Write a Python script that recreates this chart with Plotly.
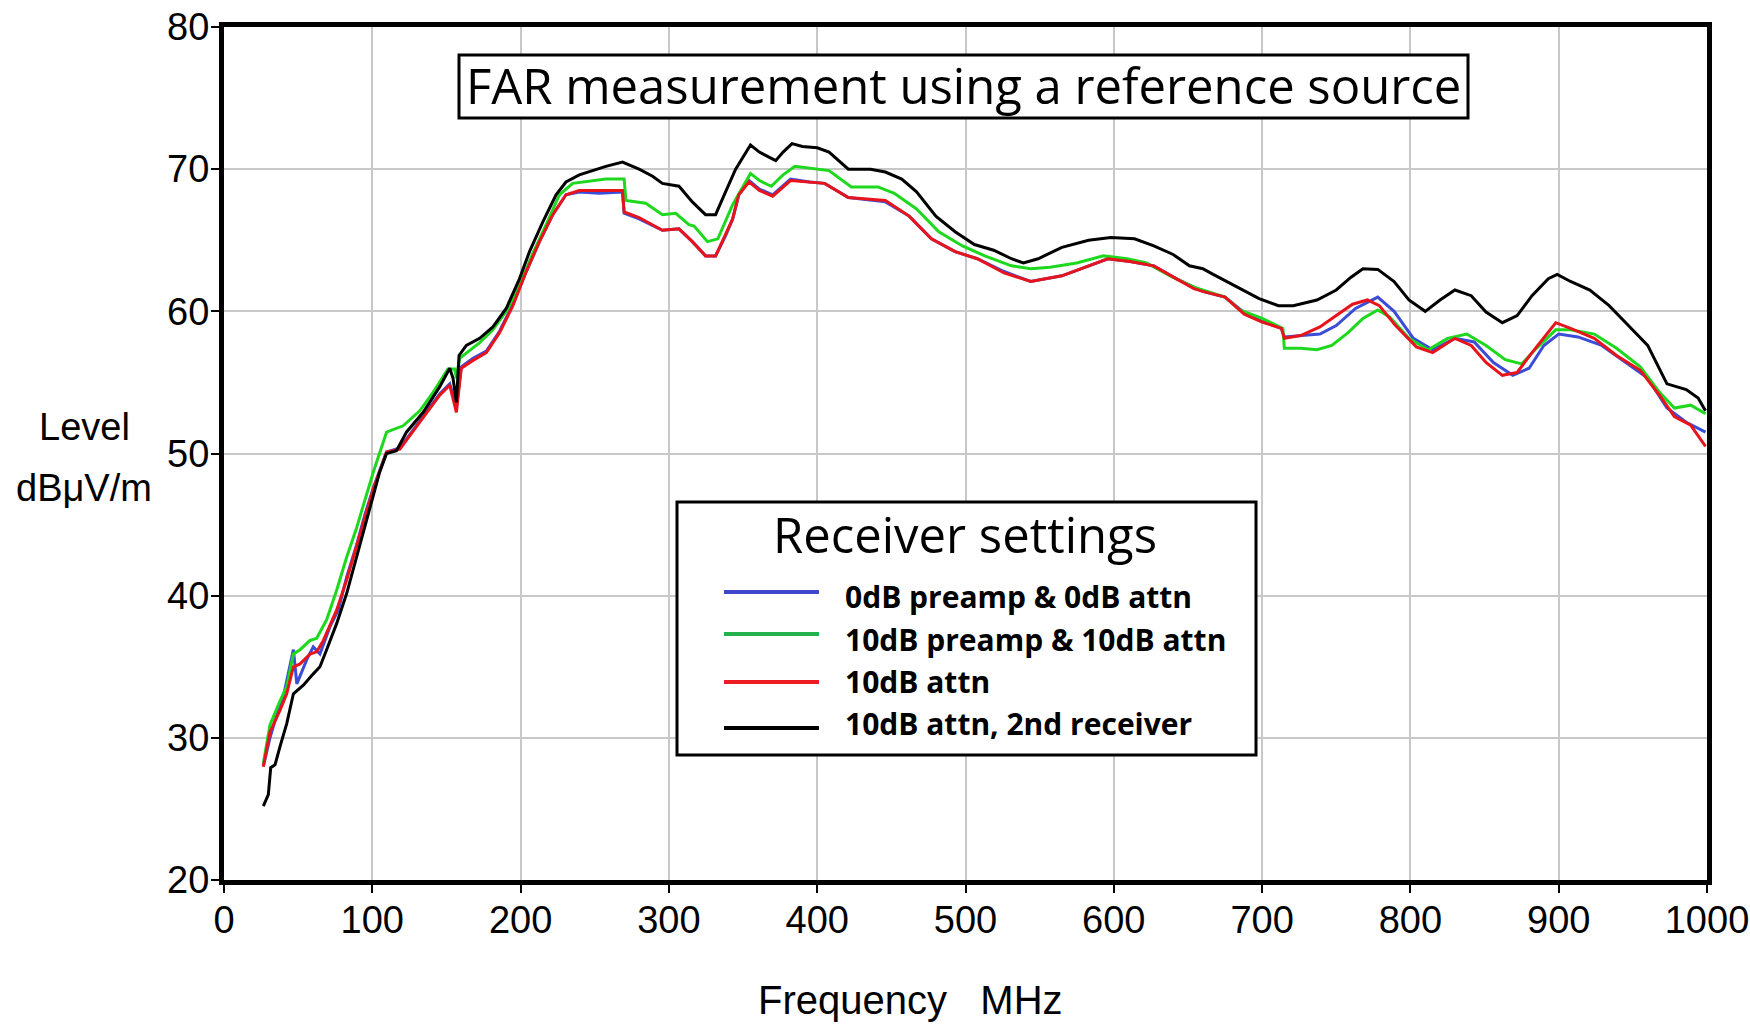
import plotly.graph_objects as go

# ---------------- data ----------------
black_f = [26.5, 29.9, 31.5, 34.4, 37.8, 42.3, 46.8, 53.5, 60.2, 64.7, 69.2, 76.0, 82.7, 89.0, 95.0,
           100.0, 105.0, 109.6, 116.3, 123.0, 134.3, 145.5, 152.2, 154.4, 156.7, 158.5, 163.4, 172.4,
           181.3, 190.3, 199.3, 206.0, 215.0, 223.9, 230.6, 239.6, 248.6, 257.5, 268.7, 279.9, 289.0,
           295.6, 306.8, 315.8, 324.7, 331.5, 338.2, 345.0, 355.0, 361.0, 372.0, 377.0, 383.0, 390.0,
           400.0, 408.0, 421.0, 436.0, 446.0, 457.0, 467.0, 480.0, 493.0, 506.0, 519.0, 531.0, 539.0,
           549.0, 565.0, 583.0, 598.0, 614.0, 627.0, 640.0, 651.0, 660.0, 667.0, 682.0, 698.0, 711.0,
           721.0, 737.0, 750.0, 760.0, 768.0, 778.0, 789.0, 799.0, 810.0, 820.0, 830.0, 841.0, 851.0,
           862.0, 872.0, 882.0, 893.0, 899.0, 908.0, 921.0, 934.0, 947.0, 960.0, 973.0, 986.0, 994.0, 999.0]
black_l = [25.2, 26.0, 27.9, 28.1, 29.4, 31.0, 33.1, 33.7, 34.5, 35.0, 36.2, 38.05, 40.15, 42.6, 45.0,
           46.9, 48.7, 50.0, 50.2, 51.5, 52.9, 54.7, 56.0, 55.3, 53.6, 56.9, 57.6, 58.1,
           58.9, 60.2, 62.3, 64.2, 66.3, 68.2, 69.1, 69.6, 69.9, 70.2, 70.5, 70.0, 69.5,
           69.0, 68.8, 67.7, 66.8, 66.8, 68.4, 70.0, 71.7, 71.2, 70.6, 71.2, 71.8, 71.6,
           71.5, 71.2, 70.0, 70.0, 69.8, 69.3, 68.4, 66.7, 65.6, 64.7, 64.3, 63.7, 63.4,
           63.7, 64.5, 65.0, 65.2, 65.1, 64.6, 64.0, 63.2, 63.0, 62.6, 61.8, 60.9, 60.4,
           60.4, 60.8, 61.5, 62.4, 63.0, 62.95, 62.1, 60.8, 60.0, 60.8, 61.5, 61.1, 59.95,
           59.2, 59.7, 61.1, 62.3, 62.6, 62.1, 61.5, 60.4, 59.0, 57.6, 54.9, 54.5, 53.9, 53.0]

green_f = [26.5, 31.0, 37.8, 42.3, 46.8, 51.3, 58.0, 62.5, 69.2, 76.0, 82.7, 89.5, 100.7, 109.6,
           120.8, 132.0, 141.0, 151.0, 155.6, 156.7, 158.9, 172.4, 181.3, 190.3, 199.3, 208.3,
           217.2, 226.2, 235.1, 248.6, 257.5, 269.8, 271.0, 284.4, 295.6, 304.6, 313.5, 317.0,
           326.0, 333.0, 343.0, 355.0, 361.0, 369.0, 377.0, 385.0, 400.0, 408.0, 423.0, 441.0,
           452.0, 467.0, 482.0, 498.0, 513.0, 531.0, 544.0, 557.0, 575.0, 593.0, 609.0, 622.0,
           638.0, 654.0, 675.0, 685.0, 700.0, 712.0, 714.0, 715.0, 726.0, 737.0, 747.0, 758.0,
           768.0, 778.0, 786.0, 799.0, 812.0, 825.0, 838.0, 851.0, 864.0, 875.0, 885.0, 898.0,
           908.0, 924.0, 939.0, 955.0, 968.0, 978.0, 989.0, 999.0]
green_l = [28.2, 30.9, 32.6, 33.6, 35.9, 36.2, 36.85, 37.0, 38.3, 40.4, 42.7, 44.8, 48.7, 51.5,
           51.95, 53.0, 54.3, 55.95, 55.95, 55.3, 56.7, 57.8, 58.7, 60.0, 61.8, 64.1,
           66.1, 68.2, 69.0, 69.15, 69.3, 69.3, 67.8, 67.6, 66.8, 66.9, 66.1, 66.0,
           64.9, 65.1, 67.5, 69.7, 69.2, 68.8, 69.6, 70.2, 70.0, 69.9, 68.75, 68.75,
           68.3, 67.2, 65.6, 64.6, 63.9, 63.2, 63.0, 63.1, 63.4, 63.9, 63.7, 63.4,
           62.5, 61.7, 61.0, 60.1, 59.5, 58.9, 58.8, 57.4, 57.4, 57.3, 57.6, 58.5,
           59.5, 60.1, 59.6, 58.1, 57.3, 58.1, 58.4, 57.6, 56.6, 56.3, 57.4, 58.7,
           58.7, 58.4, 57.4, 56.1, 54.3, 53.2, 53.4, 52.8]

red_f = [26.5, 31.0, 37.8, 42.3, 46.8, 51.3, 58.0, 62.5, 67.0, 76.0, 82.7, 89.5, 95.0, 100.7,
         109.6, 118.6, 132.0, 145.5, 152.2, 156.7, 160.0, 167.9, 176.9, 185.8, 194.8, 203.8,
         212.7, 221.7, 230.6, 239.6, 253.0, 268.7, 269.8, 279.9, 295.6, 306.8, 315.8, 324.7,
         331.5, 338.2, 343.0, 347.1, 354.0, 361.0, 370.0, 382.0, 395.0, 405.0, 421.0, 431.0,
         446.0, 462.0, 477.0, 493.0, 508.0, 526.0, 544.0, 565.0, 583.0, 596.0, 611.0, 627.0,
         642.0, 654.0, 660.0, 675.0, 688.0, 700.0, 713.0, 715.0, 726.0, 739.0, 750.0, 761.0,
         771.0, 779.0, 790.0, 804.0, 815.0, 830.0, 841.0, 851.0, 862.0, 872.0, 882.0, 898.0,
         908.0, 924.0, 939.0, 955.0, 968.0, 978.0, 989.0, 999.0]
red_l = [27.96, 30.4, 31.95, 33.1, 35.0, 35.2, 35.9, 36.05, 36.85, 39.0, 41.1, 43.5, 45.6, 47.5,
         50.1, 50.3, 52.2, 54.1, 54.8, 52.9, 56.0, 56.55, 57.1, 58.5, 60.4, 62.8,
         64.9, 66.8, 68.2, 68.5, 68.5, 68.5, 67.0, 66.6, 65.7, 65.8, 64.9, 63.9,
         63.9, 65.35, 66.5, 68.2, 69.1, 68.5, 68.1, 69.2, 69.1, 69.0, 68.0, 67.9,
         67.8, 66.7, 65.1, 64.2, 63.7, 62.7, 62.1, 62.5, 63.2, 63.7, 63.5, 63.2,
         62.3, 61.6, 61.4, 61.0, 59.8, 59.25, 58.8, 58.1, 58.3, 58.9, 59.7, 60.5,
         60.8, 60.4, 59.0, 57.5, 57.1, 58.1, 57.6, 56.4, 55.5, 55.7, 57.1, 59.2,
         58.8, 58.1, 56.9, 55.85, 54.1, 52.6, 52.0, 50.5]

blue_f = [26.5, 31.0, 34.4, 40.0, 46.8, 49.1, 55.8, 60.2, 64.7, 71.4, 77.1, 82.7, 89.5, 95.0,
          100.7, 109.6, 118.6, 132.0, 145.5, 152.2, 156.7, 160.0, 167.9, 176.9, 185.8, 194.8,
          203.8, 212.7, 221.7, 230.6, 239.6, 253.0, 268.7, 269.8, 279.9, 295.6, 306.8, 315.8,
          324.7, 331.5, 338.2, 343.0, 347.1, 354.0, 361.0, 370.0, 382.0, 395.0, 405.0, 421.0,
          431.0, 446.0, 462.0, 477.0, 493.0, 508.0, 526.0, 544.0, 565.0, 583.0, 596.0, 611.0,
          627.0, 642.0, 654.0, 660.0, 675.0, 688.0, 700.0, 713.0, 715.0, 726.0, 739.0, 750.0,
          763.0, 778.0, 789.0, 802.0, 815.0, 830.0, 843.0, 856.0, 869.0, 880.0, 890.0, 900.0,
          913.0, 929.0, 945.0, 960.0, 973.0, 986.0, 999.0]
blue_l = [28.0, 30.0, 31.2, 32.9, 36.2, 33.8, 35.5, 36.4, 35.9, 37.8, 39.0, 41.3, 43.6, 45.7,
          47.6, 50.1, 50.4, 52.3, 54.2, 54.9, 53.3, 56.1, 56.7, 57.2, 58.6, 60.5,
          62.8, 64.9, 66.8, 68.2, 68.4, 68.3, 68.4, 66.9, 66.5, 65.7, 65.8, 64.9,
          63.9, 63.9, 65.3, 66.5, 68.2, 69.2, 68.6, 68.2, 69.3, 69.1, 69.0, 68.0,
          67.9, 67.7, 66.7, 65.1, 64.2, 63.7, 62.8, 62.1, 62.5, 63.2, 63.7, 63.5,
          63.2, 62.3, 61.7, 61.4, 61.0, 59.9, 59.3, 58.8, 58.2, 58.3, 58.4, 59.0,
          60.2, 61.0, 60.0, 58.1, 57.3, 58.1, 57.85, 56.4, 55.5, 56.0, 57.6, 58.4,
          58.2, 57.6, 56.4, 55.3, 53.2, 52.2, 51.5]

series_names = ["0dB preamp & 0dB attn", "10dB preamp & 10dB attn", "10dB attn", "10dB attn, 2nd receiver"]
series_colors = ["#3b4cd6", "#1ed81e", "#e8141c", "#000000"]
legend_colors = ["#3f48cc", "#22b14c", "#ed1c24", "#000000"]

x_ticks = [0, 100, 200, 300, 400, 500, 600, 700, 800, 900, 1000]
y_ticks = [20, 30, 40, 50, 60, 70, 80]

title_text = "FAR measurement using a reference source"
legend_title = "Receiver settings"
y_title_lines = ["Level", "dBμV/m"]
x_title = "Frequency\u00a0\u00a0\u00a0MHz"

# ---------------- figure ----------------
W, H = 1750, 1025
L_PX, R_PX, T_PX, B_PX = 224, 1707, 27, 880


def px_x(px):
    return (px - L_PX) / (R_PX - L_PX)


def px_y(py):
    return (B_PX - py) / (B_PX - T_PX)


fig = go.Figure()
for f, l, name, col in zip([blue_f, green_f, red_f, black_f],
                           [blue_l, green_l, red_l, black_l],
                           series_names, series_colors):
    fig.add_trace(go.Scatter(x=f, y=l, mode="lines", name=name,
                             line=dict(color=col, width=3), showlegend=False))

axis_font = dict(family="Liberation Sans, Arial, sans-serif", size=38, color="black")

fig.update_layout(
    width=W, height=H,
    margin=dict(l=L_PX, r=W - R_PX, t=T_PX, b=H - B_PX),
    paper_bgcolor="white", plot_bgcolor="white",
    xaxis=dict(range=[0, 1000], tickvals=x_ticks, ticktext=[str(v) for v in x_ticks],
               showgrid=True, gridcolor="#c8c8c8", gridwidth=2, zeroline=False,
               showline=True, linecolor="black", linewidth=5, mirror=True,
               ticks="outside", ticklen=8, tickwidth=2, tickcolor="black",
               tickfont=axis_font, ticklabelstandoff=-6, automargin=False),
    yaxis=dict(range=[20, 80], tickvals=y_ticks, ticktext=[str(v) for v in y_ticks],
               showgrid=True, gridcolor="#c8c8c8", gridwidth=2, zeroline=False,
               showline=True, linecolor="black", linewidth=5, mirror=True,
               ticks="outside", ticklen=8, tickwidth=2, tickcolor="black",
               tickfont=axis_font, ticklabelstandoff=-6, automargin=False),
)

annotations = []
shapes = []

# chart title box
shapes.append(dict(type="rect", xref="paper", yref="paper",
                   x0=px_x(459), x1=px_x(1468), y0=px_y(118), y1=px_y(55),
                   line=dict(color="black", width=3), fillcolor="white", layer="above"))
annotations.append(dict(xref="paper", yref="paper", x=px_x(963.5), y=px_y(84.5),
                        text=title_text, showarrow=False, xanchor="center", yanchor="middle",
                        font=dict(family="Open Sans", size=49, color="black")))

# axis titles
annotations.append(dict(xref="paper", yref="paper", x=px_x(84), y=px_y(427), text=y_title_lines[0],
                        showarrow=False, xanchor="center", yanchor="middle",
                        font=dict(family="Liberation Sans, Arial", size=38, color="black")))
annotations.append(dict(xref="paper", yref="paper", x=px_x(84), y=px_y(488), text=y_title_lines[1],
                        showarrow=False, xanchor="center", yanchor="middle",
                        font=dict(family="Liberation Sans, Arial", size=38, color="black")))
annotations.append(dict(xref="paper", yref="paper", x=px_x(910), y=px_y(1024), text=x_title,
                        showarrow=False, xanchor="center", yanchor="bottom",
                        font=dict(family="Liberation Sans, Arial", size=40, color="black")))

# custom legend
shapes.append(dict(type="rect", xref="paper", yref="paper",
                   x0=px_x(677), x1=px_x(1256), y0=px_y(755), y1=px_y(502),
                   line=dict(color="black", width=3), fillcolor="white", layer="above"))
annotations.append(dict(xref="paper", yref="paper", x=px_x(965), y=px_y(534), text=legend_title,
                        showarrow=False, xanchor="center", yanchor="middle",
                        font=dict(family="Open Sans", size=49, color="black")))
line_ys = [592, 634, 682, 728]
text_ys = [596, 639, 681, 723]
for name, col, ly, ty in zip(series_names, legend_colors, line_ys, text_ys):
    shapes.append(dict(type="line", xref="paper", yref="paper",
                       x0=px_x(724), x1=px_x(819), y0=px_y(ly), y1=px_y(ly),
                       line=dict(color=col, width=4), layer="above"))
    annotations.append(dict(xref="paper", yref="paper", x=px_x(843), y=px_y(ty),
                            text="<b>" + name + "</b>", showarrow=False,
                            xanchor="left", yanchor="middle",
                            font=dict(family="Open Sans", size=30, color="black")))

fig.update_layout(annotations=annotations, shapes=shapes)
fig.write_html("out.html")
